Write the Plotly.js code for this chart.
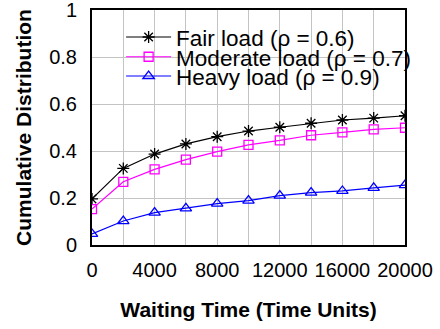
<!DOCTYPE html>
<html><head><meta charset="utf-8">
<script src="https://cdn.plot.ly/plotly-3.0.1.min.js"></script>
<style>html,body{margin:0;padding:0;background:#fff}#c{width:440px;height:329px}</style>
</head><body><div id="c"></div>
<script>
const waitingTime = [0,2000,4000,6000,8000,10000,12000,14000,16000,18000,20000];
const fairLoad = [0.196,0.326,0.387,0.430,0.461,0.485,0.501,0.518,0.532,0.540,0.550];
const moderateLoad = [0.153,0.269,0.322,0.363,0.397,0.426,0.445,0.467,0.479,0.492,0.499];
const heavyLoad = [0.047,0.102,0.138,0.156,0.176,0.189,0.210,0.223,0.230,0.243,0.255];
const seriesNames = ["Fair load (ρ = 0.6)","Moderate load (ρ = 0.7)","Heavy load (ρ = 0.9)"];
const xTicks = [0,4000,8000,12000,16000,20000];
const yTicks = [0,0.2,0.4,0.6,0.8,1];
const yTickLabels = ["0","0.2","0.4","0.6","0.8","1"];

const F = "Liberation Sans, Arial, sans-serif";
const traces = [
  {x: waitingTime, y: fairLoad, name: seriesNames[0], mode: "lines+markers", legend: "legend",
   line: {color: "#000000", width: 1.2}, marker: {symbol: "asterisk-open", size: 10, color: "#000000", line: {width: 1.3, color: "#000000"}}},
  {x: waitingTime, y: moderateLoad, name: seriesNames[1], mode: "lines+markers", legend: "legend2",
   line: {color: "#ff00ff", width: 1.2}, marker: {symbol: "square-open", size: 9, color: "#ff00ff", line: {width: 1.3, color: "#ff00ff"}}},
  {x: waitingTime, y: heavyLoad, name: seriesNames[2], mode: "lines+markers", legend: "legend3",
   line: {color: "#0000ff", width: 1.2}, marker: {symbol: "triangle-up-open", size: 10, color: "#0000ff", line: {width: 1.3, color: "#0000ff"}}}
];
function leg(y) {
  return {x: 0.093, y: y, xanchor: "left", yanchor: "top", bgcolor: "rgba(0,0,0,0)",
          font: {family: F, size: 22.5, color: "#000"}, itemwidth: 45, borderwidth: 0};
}
const layout = {
  width: 440, height: 329,
  margin: {l: 92, r: 35, t: 10, b: 84},
  paper_bgcolor: "#fff", plot_bgcolor: "#fff",
  font: {family: F, size: 20, color: "#000"},
  showlegend: true,
  legend: leg(0.975), legend2: leg(0.891), legend3: leg(0.809),
  xaxis: {range: [0, 20000], tickvals: xTicks, ticktext: xTicks.map(String),
          showgrid: false, zeroline: false, ticks: "", ticklen: 0,
          showline: true, linecolor: "#000", linewidth: 2, mirror: true,
          minor: {dtick: 2000, tick0: 0, showgrid: true, gridcolor: "#c4c4c4", gridwidth: 1},
          tickfont: {family: F, size: 20}, ticklabelstandoff: 6, ticklabeloverflow: "allow",
          title: {text: "<b>Waiting Time (Time Units)</b>", font: {family: F, size: 21}, standoff: 22}},
  yaxis: {range: [0, 1], tickvals: yTicks, ticktext: yTickLabels,
          showgrid: true, gridcolor: "#c4c4c4", gridwidth: 1, zeroline: false, ticks: "",
          showline: true, linecolor: "#000", linewidth: 2, mirror: true,
          tickfont: {family: F, size: 20}, ticklabelstandoff: 9, ticklabeloverflow: "allow",
          title: {text: "<b>Cumulative Distribution</b>", font: {family: F, size: 21}, standoff: 12}}
};
Plotly.newPlot("c", traces, layout, {staticPlot: true, displayModeBar: false});
</script></body></html>
